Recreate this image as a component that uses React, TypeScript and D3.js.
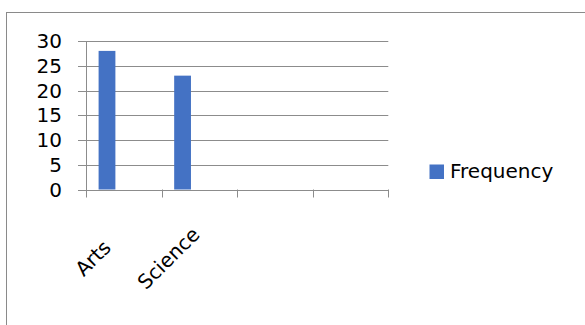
import React from "react";
import * as d3 from "d3";

const categories = ["Arts", "Science", "", ""];
const frequency = [28, 23, null, null];
const yTicks = [0, 5, 10, 15, 20, 25, 30];
const seriesName = "Frequency";

export default function App() {
  const W = 585, H = 325;
  const left = 86, right = 388.3, top = 41, bottom = 189.5;
  const x = d3.scaleBand<string>().domain(categories.map((c, i) => String(i))).range([left, right]).padding(0);
  const y = d3.scaleLinear().domain([0, 30]).range([bottom, top]);
  const bw = x.bandwidth();
  const barW = bw / 4.5;
  const barOff = bw * 0.75 / 4.5;
  const grid = "#8c8c8c";
  const font = "'DejaVu Sans', 'Open Sans', sans-serif";
  const fs = 20;
  return (
    <svg width={W} height={H} style={{ position: "absolute", left: 0, top: 0, background: "#fff" }}>
      <rect x={6.5} y={12.5} width={700} height={400} fill="#fff" stroke="#8a8a8a" strokeWidth={1} />
      {yTicks.map((t) => (
        <g key={t}>
          <line x1={78} x2={right} y1={Math.round(y(t)) + 0.5} y2={Math.round(y(t)) + 0.5} stroke={grid} strokeWidth={1} />
          <text x={62} y={y(t)} dy="0.36em" textAnchor="end" fontFamily={font} fontSize={fs} fill="#000">{t}</text>
        </g>
      ))}
      <line x1={left + 0.5} x2={left + 0.5} y1={y(30)} y2={bottom + 8} stroke={grid} />
      {categories.map((c, i) => (
        <line key={"tk" + i} x1={Math.round(x(String(i))! + bw) + 0.5} x2={Math.round(x(String(i))! + bw) + 0.5} y1={bottom} y2={bottom + 8} stroke={grid} />
      ))}
      {frequency.map((v, i) =>
        v == null ? null : (
          <rect key={"b" + i} x={x(String(i))! + barOff} y={y(v)} width={barW} height={y(0) - y(v)} fill="#4472C4" />
        )
      )}
      <line x1={78} x2={right} y1={Math.round(y(0)) + 0.5} y2={Math.round(y(0)) + 0.5} stroke={grid} />
      {categories.map((c, i) => {
        const cx = x(String(i))! + bw / 2 - 31;
        const cy = 258;
        return c ? (
          <text key={"c" + i} x={cx} y={cy} dy="0.36em" textAnchor="middle" transform={`rotate(-45 ${cx} ${cy})`} fontFamily={font} fontSize={fs} fill="#000">{c}</text>
        ) : null;
      })}
      <rect x={429.5} y={164.5} width={14.5} height={14.5} fill="#4472C4" />
      <text x={450} y={177.7} fontFamily={font} fontSize={fs} fill="#000">{seriesName}</text>
    </svg>
  );
}
